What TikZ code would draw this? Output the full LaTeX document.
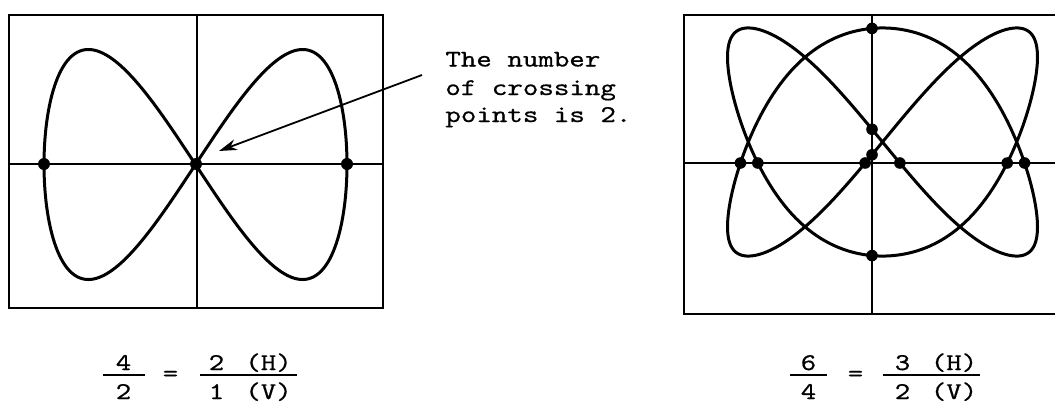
\documentclass[tikz,border=0pt]{standalone}
\usepackage{fontspec}
\newfontfamily\tw{lmmono10-regular.otf}[FakeStretch=1.23,FakeBold=0.5]
\usetikzlibrary{arrows.meta,intersections}
\begin{document}
\begin{tikzpicture}[x=0.5pt,y=-0.5pt,
  frame/.style={line width=0.9pt},
  axis/.style={line width=0.9pt},
  curve/.style={line width=1.5pt,line join=round,line cap=round},
  dot/.style={circle,fill=black,inner sep=0pt,minimum size=6pt},
  lbl/.style={font=\tw\fontsize{12}{14}\selectfont,inner sep=0pt},
  bar/.style={line width=0.9pt}]
\useasboundingbox (0,0) rectangle (1055,403);
\clip (0,0) rectangle (1055,403);

% ---------- left figure ----------
\draw[frame] (9,15) rectangle (383,308);
\draw[axis] (197,15) -- (197,308);
\draw[axis] (9,164) -- (383,164);
\draw[curve,domain=0:360,samples=401,variable=\t]
  plot ({195.5+151.5*sin(\t)},{164.5-115*sin(2*\t)});
\node[dot] (dl) at (44,164) {};
\node[dot] (dc) at (196,164) {};
\node[dot] (dr) at (347,164) {};

% ---------- annotation ----------
\coordinate (astart) at (422,75);
\coordinate (atip) at (219,151);
\draw[line width=0.9pt,-{Stealth[length=9pt,width=5.5pt]}] (astart) -- (atip);
\node[lbl,anchor=base west] (t1) at (445,66.5) {The number};
\node[lbl,anchor=base west] (t2) at (445,95) {of crossing};
\node[lbl,anchor=base west] (t3) at (445,122) {points is 2.};

% ---------- right figure ----------
\draw[frame] (684,15) rectangle (1062,314);
\draw[axis,name path=vR] (872,15) -- (872,314);
\draw[axis,name path=hR] (684,163) -- (1062,163);
\draw[curve,name path=cR,domain=0:360,samples=401,variable=\t]
  plot ({882.5+155*sin(2*\t)},{142-117*(cos(3*\t)-0.025*cos(9*\t))});
\fill[name intersections={of=cR and hR,name=ph,total=\nh}]
  \foreach \k in {1,...,\nh}{(ph-\k) circle (2.9pt)};
\fill[name intersections={of=cR and vR,name=pv,total=\nv}]
  \foreach \k in {1,...,\nv}{(pv-\k) circle (2.9pt)};

% ---------- left ratio ----------
\node[lbl,anchor=base] (ln1) at (123.5,370) {4};
\draw[bar] (103,375) -- (145,375);
\node[lbl,anchor=base] (ld1) at (123.5,399) {2};
\node[lbl,anchor=base] (leq) at (170.5,381) {=};
\node[lbl,anchor=base] (ln2) at (216.5,370) {2};
\node[lbl,anchor=base] (ln2h) at (268.5,370) {(H)};
\draw[bar] (200,375) -- (297,375);
\node[lbl,anchor=base] (ld2) at (216.5,399) {1};
\node[lbl,anchor=base] (ld2v) at (268.5,399) {(V)};

% ---------- right ratio ----------
\node[lbl,anchor=base] (rn1) at (808.5,370) {6};
\draw[bar] (790,375) -- (827,375);
\node[lbl,anchor=base] (rd1) at (808.5,399) {4};
\node[lbl,anchor=base] (req) at (855.5,381) {=};
\node[lbl,anchor=base] (rn2) at (902.5,370) {3};
\node[lbl,anchor=base] (rn2h) at (954,370) {(H)};
\draw[bar] (883,375) -- (980,375);
\node[lbl,anchor=base] (rd2) at (902.5,399) {2};
\node[lbl,anchor=base] (rd2v) at (954,399) {(V)};
\end{tikzpicture}
\end{document}
